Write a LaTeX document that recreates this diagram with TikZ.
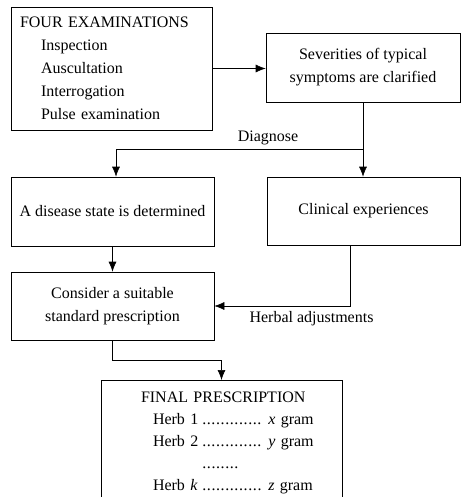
\documentclass[tikz,border=0pt]{standalone}
\usepackage{fontspec}
\setmainfont{Liberation Serif}
\usetikzlibrary{arrows.meta}
\newcommand{\herbdots}[1]{\makebox[#1][l]{\leaders\hbox to 4.6pt{\hss.\hss}\hskip #1\relax}}
\begin{document}
\begin{tikzpicture}[x=1pt, y=-1pt, line width=0.6pt, >={Latex[length=10pt,width=8pt]},
    box/.style = {draw, align=center, inner sep=0pt, font=\fontsize{16}{23}\selectfont},
    note/.style = {inner sep=0pt, font=\fontsize{16}{19}\selectfont}]
\clip (0,0) rectangle (462,497);
\node[box, minimum width=201pt, minimum height=123pt, text width=183pt, align=left] (exams) at (111.5,68.5)
    {FOUR EXAMINATIONS\\ \hspace*{21pt}Inspection\\ \hspace*{21pt}Auscultation\\ \hspace*{21pt}Interrogation\\ \hspace*{21pt}Pulse examination};
\node[box, minimum width=194pt, minimum height=69pt] (symptoms) at (363,67.5) {Severities of typical\\symptoms are clarified};
\node[box, minimum width=203pt, minimum height=69pt] (disease) at (112.5,211.5) {A disease state is determined};
\node[box, minimum width=193pt, minimum height=68pt] (clinical) at (363.5,211) {Clinical experiences};
\node[box, minimum width=203pt, minimum height=68pt] (consider) at (112.5,306) {Consider a suitable\\standard prescription};
\node[box, anchor=north, minimum width=241pt, text width=201pt, inner ysep=12pt, align=left, font=\fontsize{16}{22}\selectfont] (final) at (221.5,380)
    {\hspace*{20pt}FINAL PRESCRIPTION\\
     \hspace*{32pt}\makebox[49pt][l]{Herb 1}\herbdots{61pt}\ \textit{x} gram\\
     \hspace*{32pt}\makebox[49pt][l]{Herb 2}\herbdots{61pt}\ \textit{y} gram\\
     \hspace*{81pt}\herbdots{40pt}\\
     \hspace*{32pt}\makebox[49pt][l]{Herb \textit{k}}\herbdots{61pt}\ \textit{z} gram};
\node[note] (diagnose) at (268,138) {Diagnose};
\node[note] (adjust) at (311.5,319) {Herbal adjustments};

\draw[->] (exams.east) -- (exams.east -| symptoms.west);
\draw[->] (symptoms.south) -- (symptoms.south |- clinical.north);
\path (symptoms.south) ++(0,47) coordinate (split);
\draw[->] (split) -| ([xshift=3.5pt]disease.north);
\draw[->] (disease.south) -- (consider.north);
\draw[->] ([xshift=-13.5pt]clinical.south) |- (consider.east);
\draw[->] (consider.south) -- ++(0,20) -| (final.north);
\end{tikzpicture}
\end{document}
